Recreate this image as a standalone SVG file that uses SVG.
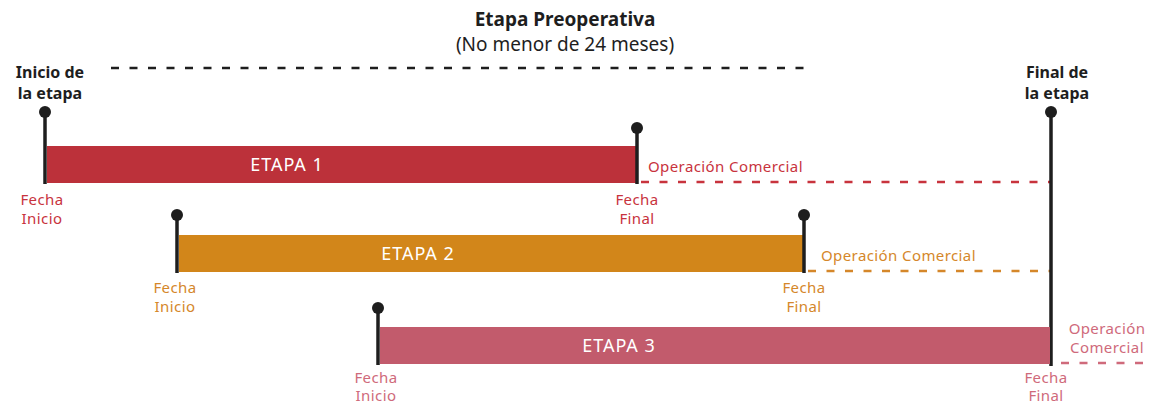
<svg xmlns="http://www.w3.org/2000/svg" width="1150" height="406" viewBox="0 0 1150 406">
<style>
text{font-family:"Noto Sans","Open Sans",sans-serif;}
.t{font-size:16px;fill:#1e1e1e;text-anchor:middle;}
.h{font-size:19px;fill:#1e1e1e;text-anchor:middle;}
.b{font-weight:bold;}
.lbl{font-size:15px;text-anchor:middle;letter-spacing:0.4px;}
.bar-t{font-size:18px;fill:#ffffff;text-anchor:middle;letter-spacing:1px;}
.pin{stroke:#1e1e1e;stroke-width:3.5;fill:none;}
.dot{fill:#1e1e1e;}
.dash{stroke-width:2.5;stroke-dasharray:8 10.5;fill:none;}
.red{fill:#c8333d;}
.org{fill:#d5872a;}
.pnk{fill:#cf6a7b;}
</style>
<g id="title">
<text class="h b" x="565" y="26">Etapa Preoperativa</text>
<text class="h" x="565" y="51">(No menor de 24 meses)</text>
</g>
<g id="connectors">
<line class="dash" x1="111" y1="68" x2="806" y2="68" stroke="#1e1e1e" stroke-dasharray="2 12 8 10.5 8 10.5 8 10.5 8 10.5 8 10.5 8 10.5 8 10.5 8 10.5 8 10.5 8 10.5 8 10.5 8 10.5 8 10.5 8 10.5 8 10.5 8 10.5 8 10.5 8 10.5 8 10.5 8 10.5 8 10.5 8 10.5 8 10.5 8 10.5 8 10.5 8 10.5 8 10.5 8 10.5 8 10.5 8 10.5 8 10.5 8 10.5 8 10.5 8 10.5 8 10.5 8 10.5 8 10.5"/>
<line class="dash" x1="641" y1="182" x2="1050" y2="182" stroke="#c8333d"/>
<line class="dash" x1="808" y1="271" x2="1050" y2="271" stroke="#d5872a"/>
<line class="dash" x1="1061" y1="363" x2="1145" y2="363" stroke="#cf6a7b"/>
</g>
<g id="inicio-etapa">
<text class="t b" x="50" y="78">Inicio de</text>
<text class="t b" x="50" y="99">la etapa</text>
<line class="pin" x1="45" y1="112" x2="45" y2="184"/>
<circle class="dot" cx="45" cy="112" r="6"/>
</g>
<g id="final-etapa">
<text class="t b" x="1057" y="78">Final de</text>
<text class="t b" x="1057" y="99">la etapa</text>
<line class="pin" x1="1051" y1="112" x2="1051" y2="366"/>
<circle class="dot" cx="1051" cy="112" r="6"/>
</g>
<g id="etapa1">
<rect x="47" y="146" width="589" height="37" fill="#bc313a"/>
<text class="bar-t" x="287" y="171">ETAPA 1</text>
<line class="pin" x1="637" y1="128" x2="637" y2="184"/>
<circle class="dot" cx="637" cy="128" r="6"/>
<text class="lbl red" x="42" y="205">Fecha</text>
<text class="lbl red" x="42" y="224">Inicio</text>
<text class="lbl red" x="637" y="205">Fecha</text>
<text class="lbl red" x="637" y="224">Final</text>
<text class="lbl red" x="648" y="172" style="text-anchor:start">Operación Comercial</text>
</g>
<g id="etapa2">
<rect x="179" y="235" width="624" height="37" fill="#d2861a"/>
<text class="bar-t" x="418" y="260">ETAPA 2</text>
<line class="pin" x1="177" y1="215" x2="177" y2="273"/>
<circle class="dot" cx="177" cy="215" r="6"/>
<line class="pin" x1="804" y1="215" x2="804" y2="273"/>
<circle class="dot" cx="804" cy="215" r="6"/>
<text class="lbl org" x="175" y="293">Fecha</text>
<text class="lbl org" x="175" y="312">Inicio</text>
<text class="lbl org" x="804" y="293">Fecha</text>
<text class="lbl org" x="804" y="312">Final</text>
<text class="lbl org" x="821" y="261" style="text-anchor:start">Operación Comercial</text>
</g>
<g id="etapa3">
<rect x="380" y="327" width="670" height="37" fill="#c25b6c"/>
<text class="bar-t" x="619" y="352">ETAPA 3</text>
<line class="pin" x1="378" y1="308" x2="378" y2="365"/>
<circle class="dot" cx="378" cy="308" r="6"/>
<text class="lbl pnk" x="376" y="383">Fecha</text>
<text class="lbl pnk" x="376" y="401">Inicio</text>
<text class="lbl pnk" x="1046" y="383">Fecha</text>
<text class="lbl pnk" x="1046" y="401">Final</text>
<text class="lbl pnk" x="1107" y="334">Operación</text>
<text class="lbl pnk" x="1107" y="353">Comercial</text>
</g>
</svg>
